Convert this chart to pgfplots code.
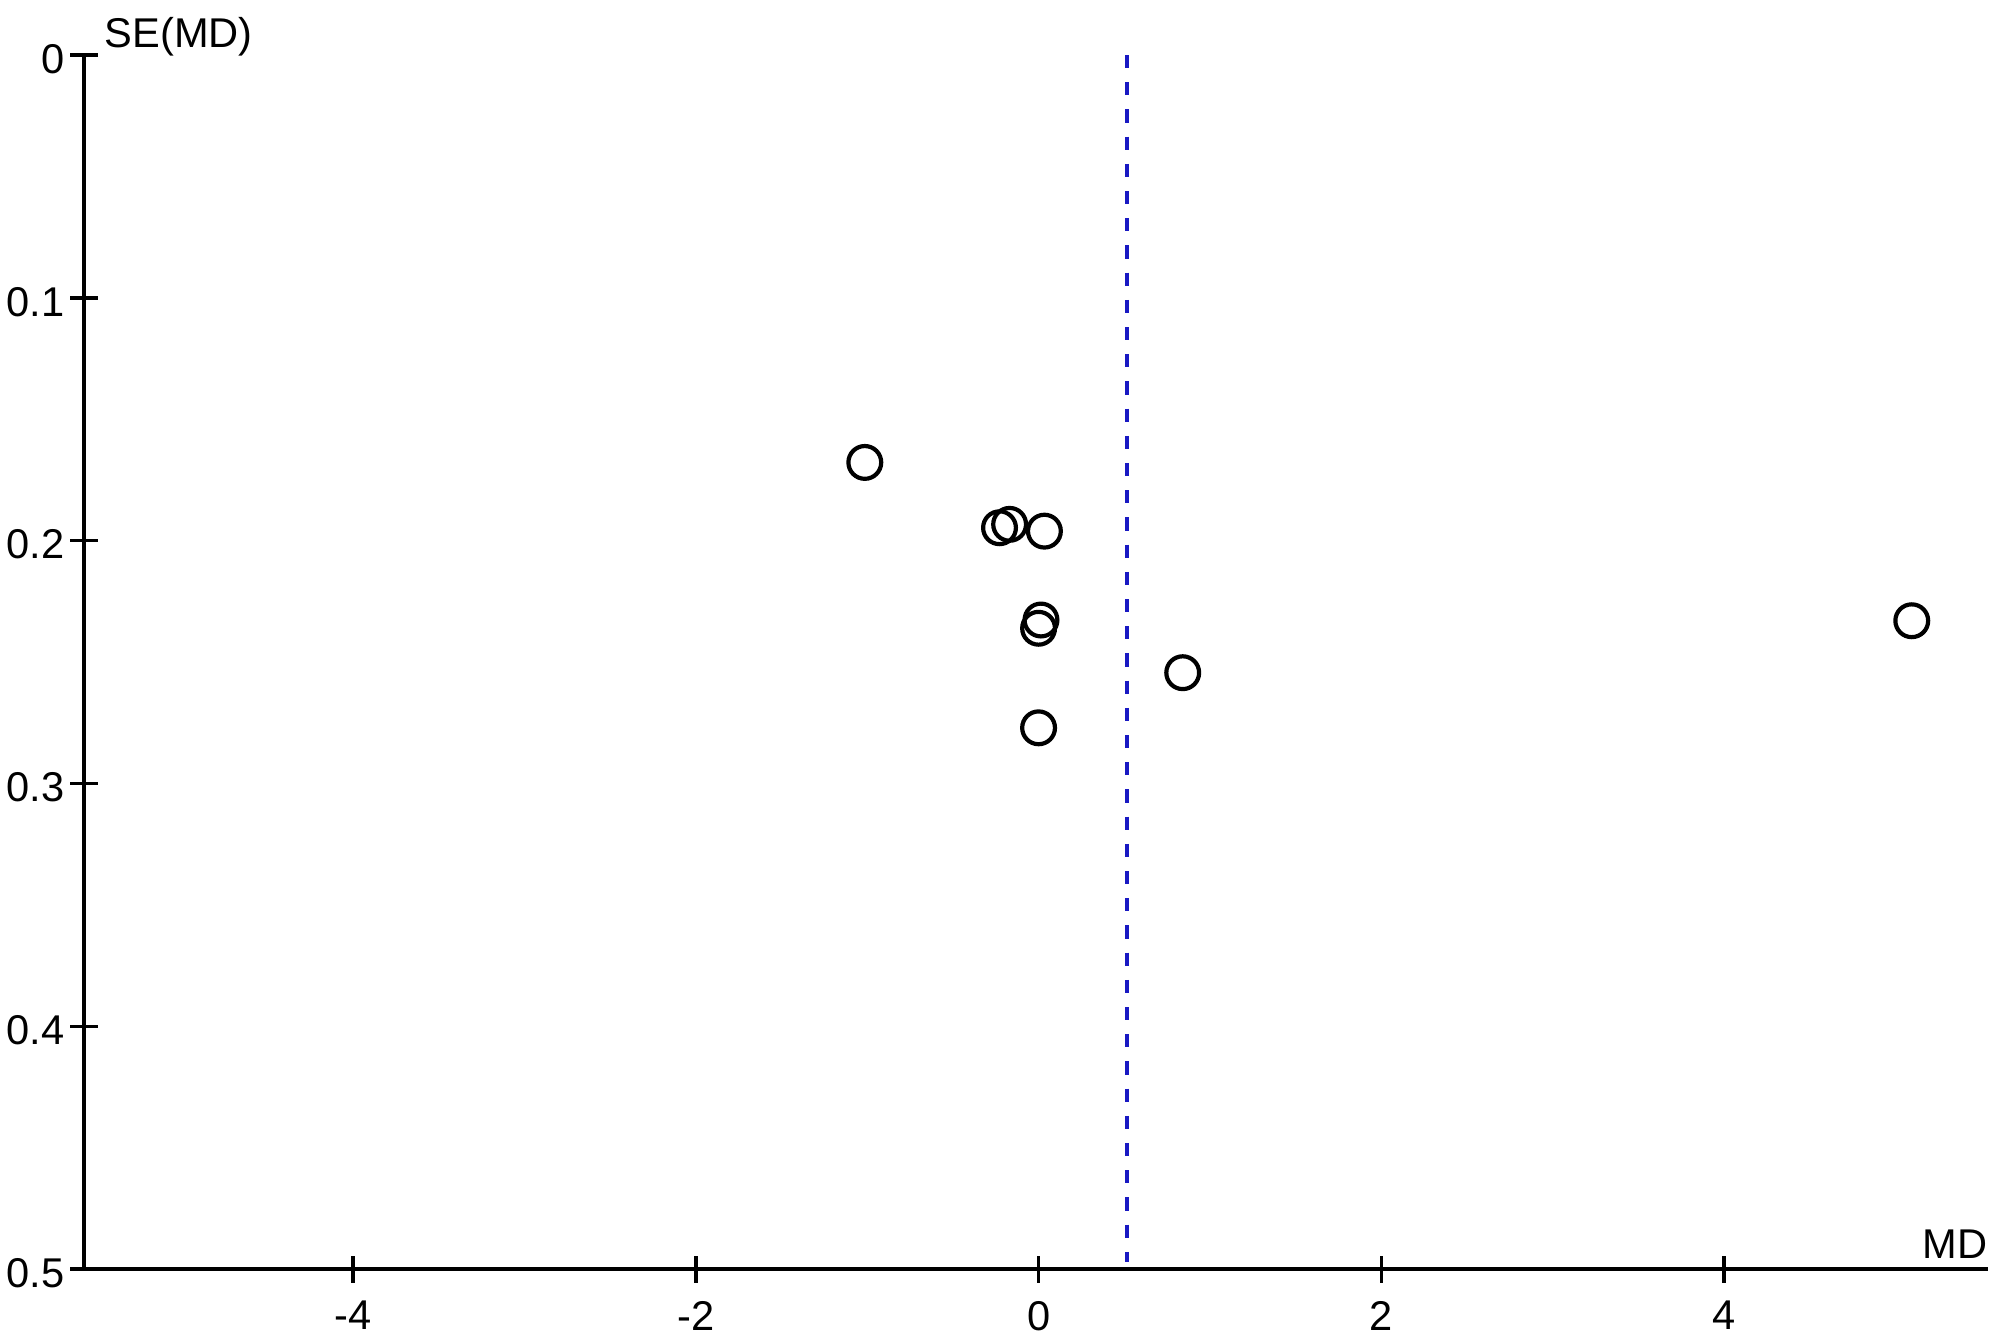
\documentclass[border=0pt]{standalone}
\usepackage{pgfplots}
\pgfplotsset{compat=1.18}
\usepackage{fontspec}
\setmainfont{Liberation Sans}
\definecolor{dblue}{RGB}{25,25,195}
\begin{document}
\begin{tikzpicture}
\fontsize{10.4}{12}\selectfont
\begin{axis}[
  name=ax,
  scale only axis,
  width=476pt, height=303.5pt,
  xmin=-5.57, xmax=5.54,
  ymin=0, ymax=0.5,
  y dir=reverse,
  axis x line*=bottom,
  axis y line*=left,
  axis line style={line width=0.85pt, -},
  xtick={-4,-2,0,2,4},
  ytick={0,0.1,0.2,0.3,0.4,0.5},
  yticklabels={0,0.1,0.2,0.3,0.4,0.5},
  xticklabels={-4,-2,0,2,4},
  tick align=center,
  major tick length=6.75pt,
  tick style={black, line width=0.85pt},
  ticklabel style={font=\fontsize{10.4}{12}\selectfont},
  xticklabel style={yshift=-1pt},
  yticklabel style={xshift=2.2pt, yshift=-1pt},
  /pgf/number format/assume math mode=true,
  clip=false,
]
\addplot[dblue, line width=1pt, dash pattern=on 3.3pt off 3.5pt] coordinates {(0.518,0) (0.518,0.497)};
\addplot[only marks, mark=o, mark size=4.1pt, mark options={line width=1.05pt, black}] coordinates {
(-1.014,0.1678)
(-0.228,0.1947)
(-0.169,0.1933)
(0.034,0.1961)
(0.014,0.2327)
(0.0,0.2361)
(0.841,0.2544)
(0.0,0.2771)
(5.095,0.2330)
};
\node[anchor=base west, inner sep=0pt] at (axis cs:-5.57,0) [xshift=5pt, yshift=1.8pt] {SE(MD)};
\node[anchor=south east, inner sep=0pt] at (axis cs:5.54,0.5) [yshift=2.5pt] {MD};
\end{axis}
\pgfresetboundingbox
\useasboundingbox ([xshift=-21pt,yshift=-16.5pt]ax.south west) rectangle ([xshift=3pt,yshift=13.75pt]ax.north east);
\end{tikzpicture}
\end{document}
